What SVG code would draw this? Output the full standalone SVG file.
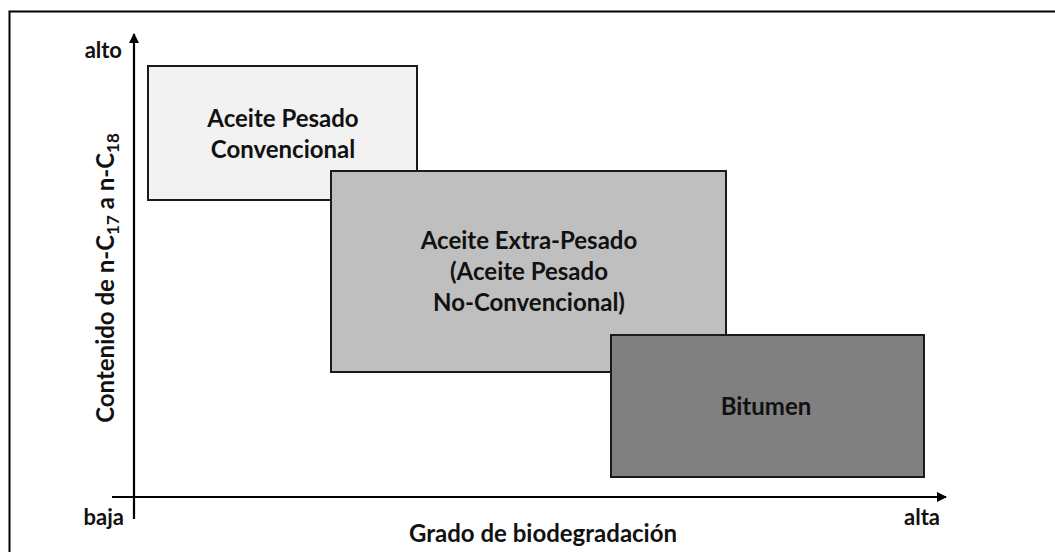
<svg xmlns="http://www.w3.org/2000/svg" width="1055" height="552" viewBox="0 0 1055 552">
<defs>
<style>
.t{font-family:Lato,"Liberation Sans",sans-serif;font-weight:bold;fill:#111;}
.m{font-size:24px;}
.s{font-size:22px;}
.box{stroke:#1a1a1a;stroke-width:2;}
.ax{stroke:#000;stroke-width:2.2;fill:none;}
</style>
<marker id="arr" viewBox="0 0 10 10" refX="9" refY="5" markerWidth="10" markerHeight="10" markerUnits="userSpaceOnUse" orient="auto">
<path d="M0,0 L10,5 L0,10 z" fill="#000"/>
</marker>
</defs>
<rect width="1055" height="552" fill="#fff"/>
<path d="M9.5,552 V11.5 H1055" fill="none" stroke="#000" stroke-width="2"/>
<g id="connectors">
<line class="ax" x1="134" y1="519" x2="134" y2="34" marker-end="url(#arr)"/>
<line class="ax" x1="112" y1="497" x2="946" y2="497" marker-end="url(#arr)"/>
</g>
<g id="labels">
<text class="t s" x="122" y="58" text-anchor="end">alto</text>
<text class="t s" x="124" y="525" text-anchor="end">baja</text>
<text class="t s" x="922" y="525" text-anchor="middle">alta</text>
<text class="t m" x="543" y="542" text-anchor="middle">Grado de biodegradación</text>
<text class="t m" text-anchor="middle" transform="translate(114,278) rotate(-90)">Contenido de n-C<tspan font-size="17" dy="5">17</tspan><tspan dy="-5"> a n-C</tspan><tspan font-size="17" dy="5">18</tspan></text>
</g>
<g id="node-convencional">
<rect class="box" x="148" y="66" width="269" height="134" fill="#f2f2f2"/>
<text class="t m" x="283" y="127" text-anchor="middle">Aceite Pesado</text>
<text class="t m" x="283" y="158" text-anchor="middle">Convencional</text>
</g>
<g id="node-extrapesado">
<rect class="box" x="331" y="171" width="395" height="201" fill="#bfbfbf"/>
<text class="t m" x="529" y="249" text-anchor="middle">Aceite Extra-Pesado</text>
<text class="t m" x="529" y="280" text-anchor="middle">(Aceite Pesado</text>
<text class="t m" x="529" y="311" text-anchor="middle">No-Convencional)</text>
</g>
<g id="node-bitumen">
<rect class="box" x="611" y="335" width="313" height="142" fill="#808080"/>
<text class="t m" x="766" y="415" text-anchor="middle">Bitumen</text>
</g>
</svg>
